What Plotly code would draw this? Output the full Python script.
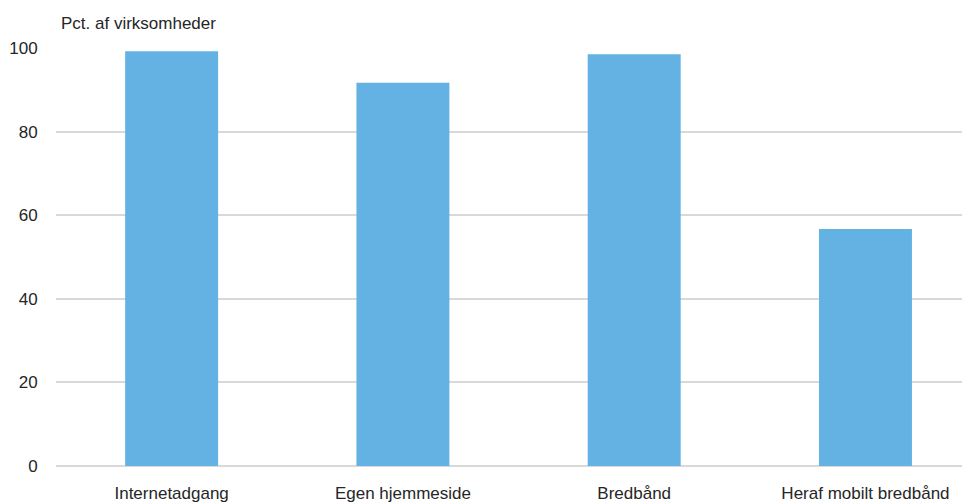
import plotly.graph_objects as go

categories = ["Internetadgang", "Egen hjemmeside", "Bredbånd", "Heraf mobilt bredbånd"]
values = [99.2, 91.7, 98.5, 56.7]
y_ticks = [0, 20, 40, 60, 80, 100]
y_title = "Pct. af virksomheder"

FONT = "Liberation Sans, Arial, sans-serif"
FS = 17
OFF = 8  # default page margin around the figure
W, H = 970 - OFF, 502 - OFF
L, R, T = 56 - OFF, 0, 48 - OFF
B = H - T - 418
ph = H - T - B

fig = go.Figure(go.Bar(x=categories, y=values, marker=dict(color="#63b2e3", line=dict(width=0)),
                       width=0.402))

fig.update_layout(
    width=W, height=H,
    margin=dict(l=L, r=R, t=T, b=B, autoexpand=False),
    plot_bgcolor="white", paper_bgcolor="white",
    font=dict(family=FONT, size=FS, color="#262626"),
    showlegend=False,
    xaxis=dict(range=[-0.5, 3.452], showgrid=False, showline=False, zeroline=False, automargin=False,
               ticks="outside", ticklen=12, tickcolor="rgba(0,0,0,0)",
               tickfont=dict(family=FONT, size=FS, color="#262626")),
    yaxis=dict(range=[0, 100], tickvals=y_ticks, showgrid=True, gridcolor="#d9d9d9", gridwidth=2,
               zeroline=True, zerolinecolor="#d9d9d9", zerolinewidth=2, showline=False, automargin=False,
               ticks="outside", ticklen=14, tickcolor="rgba(0,0,0,0)",
               tickfont=dict(family=FONT, size=FS, color="#262626")),
    annotations=[dict(text=y_title, xref="paper", yref="paper", x=(59 - 56) / (W - L - R),
                      y=1 + (48 - 24) / ph, xanchor="left", yanchor="middle", showarrow=False,
                      font=dict(family=FONT, size=FS, color="#262626"))],
)

fig.write_html("out.html")
